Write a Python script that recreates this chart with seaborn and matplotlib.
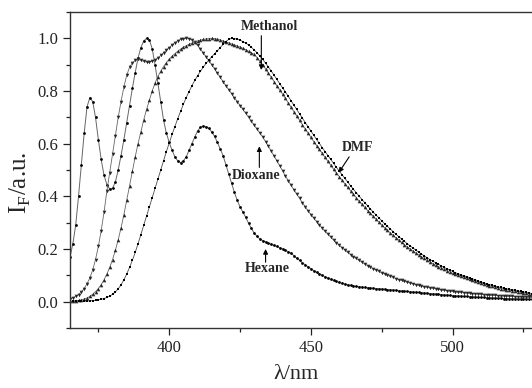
import numpy as np
import pandas as pd
import matplotlib.pyplot as plt
import seaborn as sns
from matplotlib.ticker import MultipleLocator, FormatStrFormatter

# wavelength grid (1 nm steps)
wavelength = list(range(365, 529))

hexane = [
    0.17, 0.22, 0.29, 0.40, 0.52, 0.64, 0.74, 0.775, 0.76, 0.70,          # 365
    0.615, 0.54, 0.48, 0.445, 0.428, 0.43, 0.455, 0.50, 0.555, 0.615,     # 375
    0.68, 0.745, 0.81, 0.87, 0.925, 0.965, 0.99, 1.0, 0.995, 0.96,        # 385
    0.90, 0.83, 0.76, 0.69, 0.64, 0.605, 0.575, 0.55, 0.535, 0.528,       # 395
    0.535, 0.55, 0.575, 0.60, 0.625, 0.648, 0.662, 0.667, 0.665, 0.658,   # 405
    0.645, 0.628, 0.605, 0.58, 0.555, 0.52, 0.485, 0.45, 0.415, 0.385,    # 415
    0.36, 0.34, 0.32, 0.298, 0.278, 0.26, 0.248, 0.238, 0.232, 0.227,     # 425
    0.222, 0.218, 0.214, 0.21, 0.205, 0.2, 0.195, 0.19, 0.184, 0.175,     # 435
    0.165, 0.157, 0.148, 0.14, 0.132, 0.125, 0.118, 0.112, 0.106, 0.1,    # 445
    0.095, 0.09, 0.085, 0.081, 0.077, 0.073, 0.07, 0.067, 0.064, 0.062,   # 455
    0.06, 0.058, 0.057, 0.056, 0.054, 0.053, 0.052, 0.051, 0.05, 0.049,   # 465
    0.048, 0.047, 0.046, 0.045, 0.044, 0.043, 0.042, 0.041, 0.04, 0.039,  # 475
    0.038, 0.037, 0.036, 0.035, 0.034, 0.033, 0.032, 0.031, 0.03, 0.029,  # 485
    0.028, 0.027, 0.026, 0.025, 0.024, 0.023, 0.022, 0.022, 0.021, 0.02,  # 495
    0.02, 0.019, 0.018, 0.018, 0.017, 0.016, 0.016, 0.015, 0.015, 0.014,  # 505
    0.014, 0.013, 0.013, 0.012, 0.012, 0.011, 0.011, 0.011, 0.01, 0.01,   # 515
    0.01, 0.01, 0.009, 0.009,                                             # 525
]

dioxane = [
    0.012, 0.015, 0.02, 0.027, 0.037, 0.05, 0.068, 0.09, 0.12, 0.16,
    0.21, 0.27, 0.34, 0.42, 0.49, 0.56, 0.63, 0.70, 0.76, 0.815,
    0.86, 0.89, 0.907, 0.916, 0.92, 0.917, 0.913, 0.91, 0.91, 0.913,
    0.918, 0.926, 0.935, 0.945, 0.955, 0.965, 0.975, 0.984, 0.991, 0.996,
    0.999, 1.0, 0.999, 0.994, 0.985, 0.973, 0.96, 0.945, 0.93, 0.915,
    0.9, 0.884, 0.868, 0.852, 0.836, 0.82, 0.805, 0.79, 0.775, 0.76,
    0.745, 0.73, 0.715, 0.70, 0.685, 0.67, 0.655, 0.64, 0.625, 0.608,
    0.59, 0.572, 0.553, 0.535, 0.516, 0.497, 0.478, 0.46, 0.442, 0.425,
    0.408, 0.392, 0.376, 0.36, 0.345, 0.331, 0.317, 0.304, 0.291, 0.279,
    0.267, 0.256, 0.245, 0.234, 0.224, 0.214, 0.205, 0.196, 0.187, 0.179,
    0.171, 0.164, 0.157, 0.15, 0.143, 0.137, 0.131, 0.125, 0.12, 0.115,
    0.11, 0.105, 0.1, 0.096, 0.092, 0.088, 0.084, 0.081, 0.077, 0.074,
    0.071, 0.068, 0.065, 0.062, 0.06, 0.057, 0.055, 0.053, 0.051, 0.049,
    0.047, 0.045, 0.043, 0.042, 0.04, 0.039, 0.037, 0.036, 0.035, 0.034,
    0.033, 0.032, 0.031, 0.03, 0.029, 0.028, 0.027, 0.026, 0.025, 0.024,
    0.024, 0.023, 0.022, 0.022, 0.021, 0.02, 0.02, 0.019, 0.019, 0.018,
    0.018, 0.017, 0.017, 0.016,
]

methanol = [
    0.002, 0.003, 0.004, 0.005, 0.007, 0.01, 0.014, 0.02, 0.028, 0.038,
    0.05, 0.065, 0.083, 0.105, 0.13, 0.16, 0.195, 0.235, 0.28, 0.33,
    0.385, 0.44, 0.495, 0.55, 0.6, 0.645, 0.69, 0.73, 0.765, 0.8,
    0.83, 0.855, 0.875, 0.893, 0.908, 0.921, 0.932, 0.942, 0.951, 0.959,
    0.966, 0.972, 0.977, 0.982, 0.986, 0.99, 0.993, 0.996, 0.998, 0.999,
    1.0, 0.999, 0.997, 0.994, 0.99, 0.987, 0.983, 0.979, 0.975, 0.971,
    0.967, 0.962, 0.957, 0.951, 0.945, 0.939, 0.927, 0.913, 0.899, 0.884,
    0.868, 0.852, 0.836, 0.82, 0.804, 0.788, 0.772, 0.755, 0.738, 0.722,
    0.705, 0.689, 0.672, 0.656, 0.64, 0.624, 0.608, 0.593, 0.578, 0.563,
    0.548, 0.533, 0.518, 0.503, 0.489, 0.475, 0.461, 0.447, 0.434, 0.421,
    0.408, 0.395, 0.382, 0.37, 0.358, 0.346, 0.335, 0.324, 0.313, 0.302,
    0.291, 0.281, 0.271, 0.261, 0.252, 0.243, 0.234, 0.225, 0.216, 0.208,
    0.2, 0.192, 0.185, 0.178, 0.171, 0.164, 0.157, 0.151, 0.145, 0.139,
    0.133, 0.128, 0.123, 0.118, 0.113, 0.108, 0.104, 0.1, 0.096, 0.093,
    0.089, 0.085, 0.081, 0.077, 0.074, 0.07, 0.067, 0.064, 0.061, 0.058,
    0.055, 0.053, 0.05, 0.048, 0.046, 0.044, 0.042, 0.04, 0.038, 0.036,
    0.034, 0.032, 0.03, 0.029,
]

dmf = [
    0.001, 0.001, 0.001, 0.002, 0.002, 0.002, 0.003, 0.003, 0.004, 0.005,
    0.007, 0.009, 0.012, 0.016, 0.021, 0.028, 0.037, 0.049, 0.064, 0.083,
    0.105, 0.13, 0.157, 0.187, 0.22, 0.255, 0.29, 0.325, 0.36, 0.395,
    0.43, 0.465, 0.5, 0.535, 0.57, 0.603, 0.635, 0.665, 0.695, 0.723,
    0.75, 0.775, 0.798, 0.82, 0.84, 0.858, 0.875, 0.89, 0.905, 0.918,
    0.93, 0.942, 0.953, 0.965, 0.977, 0.988, 0.996, 1.0, 0.999, 0.997,
    0.993, 0.988, 0.982, 0.975, 0.966, 0.956, 0.945, 0.933, 0.92, 0.906,
    0.891, 0.876, 0.86, 0.844, 0.828, 0.812, 0.796, 0.78, 0.763, 0.746,
    0.73, 0.713, 0.697, 0.68, 0.664, 0.648, 0.632, 0.616, 0.601, 0.585,
    0.57, 0.555, 0.54, 0.525, 0.51, 0.496, 0.482, 0.468, 0.454, 0.44,
    0.427, 0.414, 0.401, 0.388, 0.376, 0.364, 0.352, 0.34, 0.329, 0.318,
    0.307, 0.296, 0.286, 0.276, 0.266, 0.256, 0.247, 0.238, 0.229, 0.22,
    0.212, 0.204, 0.196, 0.188, 0.181, 0.174, 0.167, 0.16, 0.154, 0.148,
    0.142, 0.136, 0.13, 0.125, 0.12, 0.115, 0.11, 0.106, 0.102, 0.098,
    0.095, 0.091, 0.087, 0.083, 0.079, 0.075, 0.072, 0.068, 0.065, 0.062,
    0.059, 0.056, 0.054, 0.051, 0.049, 0.047, 0.045, 0.043, 0.041, 0.039,
    0.037, 0.035, 0.033, 0.031,
]

sns.set_style("ticks")
plt.rcParams['font.family'] = ['Liberation Serif', 'DejaVu Serif']
plt.rcParams['mathtext.fontset'] = 'custom'
plt.rcParams['mathtext.rm'] = 'Liberation Serif'

fig, ax = plt.subplots(figsize=(5.32, 3.88), dpi=100)
fig.subplots_adjust(left=0.1316, right=1.0, top=0.969, bottom=0.1546)

# one curve per solvent: thin line + small markers
sns.lineplot(x=wavelength, y=hexane, ax=ax, color='0.4', linewidth=0.7,
             marker='o', markersize=2.0, markerfacecolor='black',
             markeredgecolor='black', markeredgewidth=0)
sns.lineplot(x=wavelength, y=dioxane, ax=ax, color='0.4', linewidth=0.6,
             marker='v', markersize=2.6, markerfacecolor='0.15',
             markeredgecolor='0.15', markeredgewidth=0)
sns.lineplot(x=wavelength, y=methanol, ax=ax, color='0.4', linewidth=0.6,
             marker='^', markersize=2.6, markerfacecolor='0.15',
             markeredgecolor='0.15', markeredgewidth=0)
sns.lineplot(x=wavelength, y=dmf, ax=ax, color='0.3', linewidth=0.6,
             marker='s', markersize=2.0, markerfacecolor='black',
             markeredgecolor='black', markeredgewidth=0)

# labels with arrows
arrow = dict(arrowstyle='-|>', color='black', lw=0.8, mutation_scale=7,
             shrinkA=0, shrinkB=0)
ax.annotate('', xy=(432.5, 0.88), xytext=(432.5, 1.01), arrowprops=arrow)
ax.text(435.4, 1.045, 'Methanol', ha='center', va='center',
        fontsize=10, fontweight='bold')
ax.annotate('', xy=(459.8, 0.49), xytext=(463.5, 0.55), arrowprops=arrow)
ax.text(466.5, 0.585, 'DMF', ha='center', va='center',
        fontsize=10, fontweight='bold')
ax.annotate('', xy=(431.8, 0.59), xytext=(431.8, 0.51), arrowprops=arrow)
ax.text(430.5, 0.48, 'Dioxane', ha='center', va='center',
        fontsize=10, fontweight='bold')
ax.annotate('', xy=(434.0, 0.2), xytext=(434.0, 0.15), arrowprops=arrow)
ax.text(434.6, 0.125, 'Hexane', ha='center', va='center',
        fontsize=10, fontweight='bold')

ax.set_xlim(365, 528)
ax.set_ylim(-0.1, 1.1)
ax.xaxis.set_major_locator(MultipleLocator(50))
ax.xaxis.set_minor_locator(MultipleLocator(25))
ax.yaxis.set_major_locator(MultipleLocator(0.2))
ax.yaxis.set_minor_locator(MultipleLocator(0.1))
ax.yaxis.set_major_formatter(FormatStrFormatter('%.1f'))
ax.tick_params(which='major', direction='out', length=5, width=0.9,
               labelsize=12, colors='#222222')
ax.tick_params(which='minor', direction='out', length=3, width=0.9,
               colors='#222222')

ax.spines['right'].set_visible(False)
for side in ['left', 'top', 'bottom']:
    ax.spines[side].set_linewidth(1.0)
    ax.spines[side].set_color('#333333')

ax.set_xlabel('λ/nm', fontsize=16, va='center')
ax.set_ylabel(r'I$_\mathrm{F}$/a.u.', fontsize=18, va='center')
ax.xaxis.set_label_coords(0.49, -0.148)
ax.yaxis.set_label_coords(-0.108, 0.46)

plt.savefig('out.png', dpi=100)
